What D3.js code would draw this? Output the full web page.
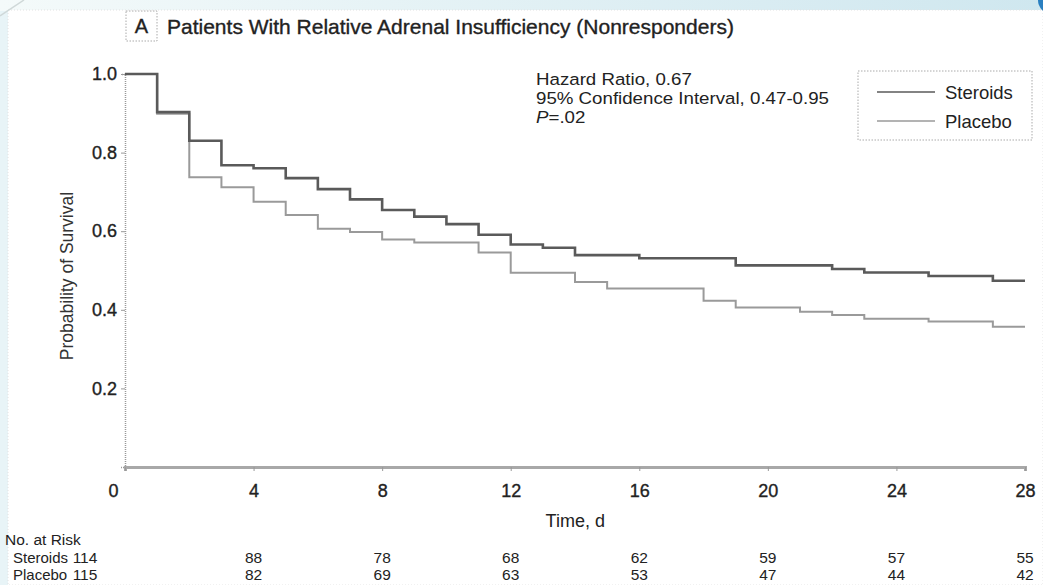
<!DOCTYPE html>
<html>
<head>
<meta charset="utf-8">
<script src="https://cdn.jsdelivr.net/npm/d3@7"></script>
<style>
  body { margin: 0; background: #fff; }
  svg { display: block; font-family: "Liberation Sans", Arial, Helvetica, sans-serif; }
  .heavy { stroke: #222; stroke-width: 0.35px; }
</style>
</head>
<body>
<svg id="chart" width="1043" height="585"></svg>
<script>
// Kaplan-Meier curves (time in days, survival probability)
const steroidTimes = [0, 1, 2, 3, 4, 5, 6, 7, 8, 9, 10, 11, 12, 13, 14, 16, 19, 22, 23, 25, 27, 28];
const steroidSurv  = [1.0, 0.903, 0.830, 0.768, 0.760, 0.735, 0.707, 0.681, 0.654, 0.637, 0.618, 0.591, 0.566, 0.558, 0.539, 0.531, 0.513, 0.504, 0.495, 0.486, 0.474, 0.474];
const placeboTimes = [0, 1, 2, 3, 4, 5, 6, 7, 8, 9, 11, 12, 14, 15, 18, 19, 21, 22, 23, 25, 27, 28];
const placeboSurv  = [1.0, 0.899, 0.737, 0.712, 0.675, 0.641, 0.606, 0.598, 0.579, 0.571, 0.546, 0.494, 0.471, 0.454, 0.423, 0.406, 0.395, 0.387, 0.377, 0.370, 0.357, 0.357];

// numbers at risk
const riskDays     = [0, 4, 8, 12, 16, 20, 24, 28];
const steroidRisk  = [114, 88, 78, 68, 62, 59, 57, 55];
const placeboRisk  = [115, 82, 69, 63, 53, 47, 44, 42];

const xTicks = [0, 4, 8, 12, 16, 20, 24, 28];
const yTicks = [0.2, 0.4, 0.6, 0.8, 1.0];

const titleText = "Patients With Relative Adrenal Insufficiency (Nonresponders)";
const statsText = ["Hazard Ratio, 0.67", "95% Confidence Interval, 0.47-0.95"];
const groupNames = ["Steroids", "Placebo"];
const groupColors = ["#5a5a5a", "#9a9a9a"];
const groupWidths = [2.6, 2];

const svg = d3.select('#chart');

// ---- slide background bits
const defs = svg.append('defs');
const grad = defs.append('linearGradient').attr('id', 'topband');
grad.append('stop').attr('offset', '0%').attr('stop-color', '#f4fafa');
grad.append('stop').attr('offset', '100%').attr('stop-color', '#cfe7ef');
svg.append('rect').attr('width', 1043).attr('height', 585).attr('fill', '#e8f4f7');
svg.append('rect').attr('width', 1043).attr('height', 11).attr('fill', 'url(#topband)');
svg.append('rect').attr('x', 8).attr('y', 10).attr('width', 1035).attr('height', 575)
  .attr('fill', '#fff').attr('stroke', '#e2e2e2').attr('stroke-dasharray', '1,2');
svg.append('line').attr('x1', 0).attr('y1', 16).attr('x2', 24).attr('y2', 0)
  .attr('stroke', '#cfd8d8').attr('stroke-width', 1.5);
svg.append('circle').attr('cx', 1052).attr('cy', 0).attr('r', 14).attr('fill', '#2a7fc0');

// ---- scales
const x = d3.scaleLinear([0, 28], [125, 1025]);
const y = d3.scaleLinear([0, 1], [467, 74]);

// ---- panel title
svg.append('rect').attr('x', 126).attr('y', 11).attr('width', 31).attr('height', 30)
  .attr('fill', 'none').attr('stroke', '#aaa').attr('stroke-dasharray', '1.5,1.5');
svg.append('text').attr('class', 'heavy').attr('x', 141.5).attr('y', 33).attr('text-anchor', 'middle')
  .attr('font-size', 20).attr('fill', '#222').text('A');
svg.append('text').attr('class', 'heavy').attr('x', 167).attr('y', 34)
  .attr('font-size', 21).attr('fill', '#222').text(titleText);

// ---- y axis
const yAxis = svg.append('g')
  .attr('transform', 'translate(' + x(0) + ',0)')
  .call(d3.axisLeft(y).tickValues(yTicks).tickFormat(d3.format('.1f')).tickSize(4).tickPadding(4));
yAxis.select('.domain').attr('stroke', '#999').attr('stroke-width', 1.5).attr('stroke-dasharray', '1,1');
yAxis.selectAll('.tick line').attr('stroke', '#999');
yAxis.selectAll('.tick text').attr('class', 'heavy').attr('font-size', 18).attr('fill', '#222')
  .attr('font-family', '"Liberation Sans", Arial, sans-serif');

// ---- x axis
const xAxis = svg.append('g')
  .attr('transform', 'translate(0,' + y(0) + ')')
  .call(d3.axisBottom(x).tickValues(xTicks).tickSize(4).tickPadding(13));
xAxis.select('.domain').attr('stroke', '#a8a8a8').attr('stroke-width', 3);
xAxis.selectAll('.tick line').attr('stroke', '#999');
xAxis.selectAll('.tick text').attr('class', 'heavy').attr('font-size', 18).attr('fill', '#222')
  .attr('font-family', '"Liberation Sans", Arial, sans-serif')
  .attr('dx', d => d === 0 ? -12 : 0);

svg.append('text').attr('x', x(16) - 64).attr('y', 527).attr('text-anchor', 'middle')
  .attr('font-size', 18).attr('fill', '#222').text('Time, d');

svg.append('text')
  .attr('transform', 'translate(73,276) rotate(-90)')
  .attr('text-anchor', 'middle').attr('font-size', 17.5).attr('fill', '#333')
  .text('Probability of Survival');

// ---- curves
const line = d3.line().curve(d3.curveStepAfter).x(d => x(d[0])).y(d => y(d[1]));
const series = [
  d3.zip(steroidTimes, steroidSurv),
  d3.zip(placeboTimes, placeboSurv)
];
// placebo first so steroids sit on top
[1, 0].forEach(i => {
  svg.append('path')
    .datum(series[i])
    .attr('d', line)
    .attr('fill', 'none')
    .attr('stroke', groupColors[i])
    .attr('stroke-width', groupWidths[i]);
});

// ---- stats text (a little wider than Liberation Sans, like the original face)
const stats = svg.append('text').attr('transform', 'translate(536,85) scale(1.1,1)')
  .attr('font-size', 17).attr('fill', '#222');
statsText.forEach((t, i) => {
  stats.append('tspan').attr('x', 0).attr('dy', i === 0 ? 0 : 19).text(t);
});
const pLine = stats.append('tspan').attr('x', 0).attr('dy', 19);
pLine.append('tspan').attr('font-style', 'italic').text('P');
pLine.append('tspan').text('=.02');

// ---- legend
svg.append('rect').attr('x', 858).attr('y', 71).attr('width', 174).attr('height', 69)
  .attr('fill', '#fff').attr('stroke', '#aaa').attr('stroke-dasharray', '1.5,1.5');
groupNames.forEach((name, i) => {
  const ly = 92 + i * 29;
  svg.append('line').attr('x1', 877).attr('x2', 935).attr('y1', ly).attr('y2', ly)
    .attr('stroke', groupColors[i]).attr('stroke-width', 1.6);
  svg.append('text').attr('x', 945).attr('y', ly + 6.5)
    .attr('font-size', 18.5).attr('fill', '#222').text(name);
});

// ---- numbers at risk
svg.append('text').attr('x', 5).attr('y', 545).attr('font-size', 15.5).attr('fill', '#222')
  .text('No. at Risk');
[steroidRisk, placeboRisk].forEach((row, r) => {
  const by = 563 + r * 17;
  svg.append('text').attr('x', 13).attr('y', by).attr('font-size', 15).attr('fill', '#222')
    .text(groupNames[r]);
  svg.selectAll(null)
    .data(row)
    .enter()
    .append('text')
    .attr('x', (d, i) => i === 0 ? x(riskDays[i]) - 40 : x(riskDays[i]))
    .attr('y', by)
    .attr('text-anchor', 'middle')
    .attr('font-size', 15.5)
    .attr('fill', '#222')
    .text(d => d);
});
</script>
</body>
</html>
